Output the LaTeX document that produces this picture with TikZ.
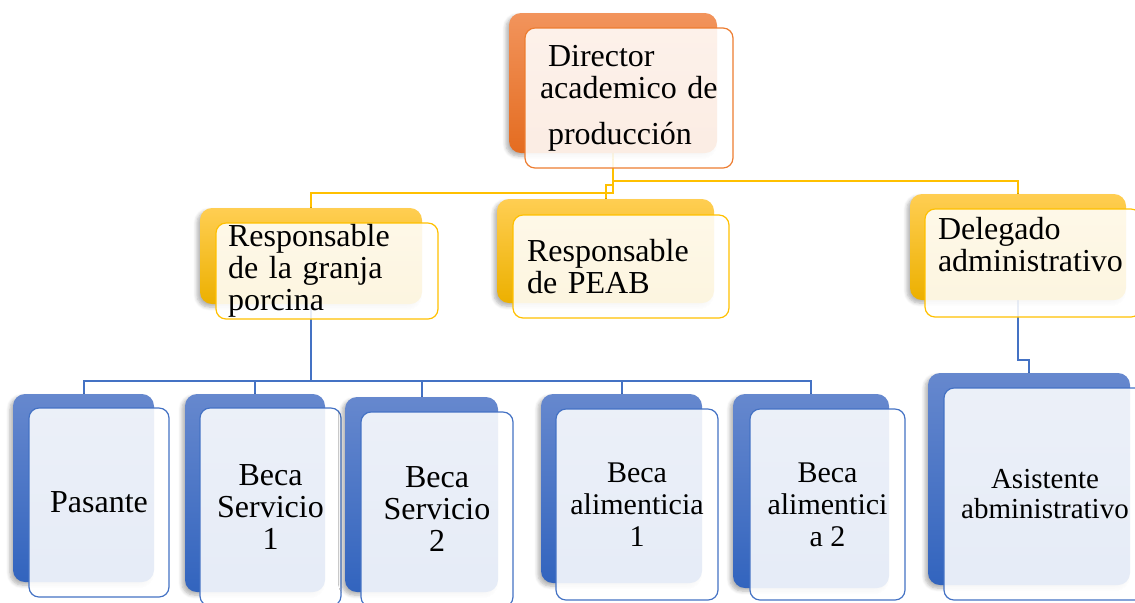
\documentclass[tikz,border=0pt]{standalone}
\usepackage{fontspec}
\setmainfont{Liberation Serif}
\usetikzlibrary{backgrounds, shadows.blur}
\definecolor{orgTop}{RGB}{242,148,92}
\definecolor{orgBot}{RGB}{228,108,32}
\definecolor{orgLine}{RGB}{237,125,49}
\definecolor{ylwTop}{RGB}{255,206,82}
\definecolor{ylwBot}{RGB}{236,176,0}
\definecolor{ylwLine}{RGB}{255,192,0}
\definecolor{bluTop}{RGB}{102,136,206}
\definecolor{bluBot}{RGB}{50,100,190}
\definecolor{bluLine}{RGB}{68,114,196}

\begin{document}
\begin{tikzpicture}[x=0.5pt, y=-0.5pt,
    back/.style={top color=#1Top, bottom color=#1Bot, draw=none, rounded corners=6pt,
                 blur shadow={shadow xshift=-1.5pt, shadow yshift=-1.5pt,
                              shadow opacity=30, shadow blur steps=6}},
    front/.style={draw=#1Line, line width=0.6pt, fill=white, fill opacity=0.88,
                  text opacity=1, rounded corners=5pt, inner sep=0pt},
    txt/.style={font=\fontsize{16}{16}\selectfont},
    ylw/.style={draw=ylwLine, line width=1pt},
    blu/.style={draw=bluLine, line width=1pt}
  ]
    \useasboundingbox (0,0) rectangle (1135,602);

    % Director
    \node[back=org, minimum width=104pt, minimum height=70pt] (dirB) at (613,83) {};
    \node[front=org, txt, minimum width=104pt, minimum height=70pt, align=left, text width=89pt]
      (dir) at (629,98) {\hspace{4pt}Director\\academico de\\[7pt]\hspace{4pt}producción};

    % Second level
    \node[back=ylw, minimum width=111pt, minimum height=48pt] (granjaB) at (311,256) {};
    \node[front=ylw, txt, minimum width=111pt, minimum height=48pt, align=left, text width=99pt]
      (granja) at (327,271) {Responsable\\de la granja\\porcina};

    \node[back=ylw, minimum width=108.5pt, minimum height=52pt] (peabB) at (605.5,251) {};
    \node[front=ylw, txt, minimum width=108pt, minimum height=51.5pt, align=left, text width=94pt]
      (peab) at (621,266.5) {Responsable\\de PEAB};

    \node[back=ylw, minimum width=108pt, minimum height=53pt] (delB) at (1018,247) {};
    \node[front=ylw, minimum width=108pt, minimum height=54pt] (del) at (1033,263) {};
    \node[txt, align=left, text width=95pt, inner sep=0pt] (delT) at (1033,244.5)
      {Delegado\\administrativo};

    % Third level
    \node[back=blu, minimum width=70.5pt, minimum height=94pt] (pasB) at (83.5,488) {};
    \node[front=blu, txt, minimum width=70pt, minimum height=94.5pt, align=center]
      (pas) at (99,502.5) {Pasante};

    \node[back=blu, minimum width=70pt, minimum height=99pt] (bs1B) at (255,493) {};
    \node[front=blu, txt, minimum width=70.5pt, minimum height=99pt, align=center]
      (bs1) at (270.5,507) {Beca\\Servicio\\1};

    \node[back=blu, minimum width=76.5pt, minimum height=97.5pt] (bs2B) at (421.5,494.5) {};
    \node[front=blu, txt, minimum width=76pt, minimum height=97.5pt, align=center]
      (bs2) at (437,509.5) {Beca\\Servicio\\2};

    \node[back=blu, minimum width=80.5pt, minimum height=94.5pt] (ba1B) at (621.5,488.5) {};
    \node[front=blu, font=\fontsize{15}{16}\selectfont, minimum width=81pt, minimum height=95.5pt,
      align=center] (ba1) at (637,504.5) {Beca\\alimenticia\\1};

    \node[back=blu, minimum width=78pt, minimum height=97pt] (ba2B) at (811,491) {};
    \node[front=blu, font=\fontsize{15}{16}\selectfont, minimum width=77.5pt, minimum height=95.5pt,
      align=center] (ba2) at (827.5,504.5) {Beca\\alimentici\\a 2};

    \node[back=blu, minimum width=101pt, minimum height=106pt] (asiB) at (1029,479) {};
    \node[front=blu, font=\fontsize{14.5}{15}\selectfont, minimum width=101pt, minimum height=106pt,
      align=center] (asi) at (1045,494) {Asistente\\abministrativo};

    % Connectors
    \begin{scope}[on background layer]
      \draw[ylw] (dirB.south) -- (613,181) -| (delB.north);
      \draw[ylw] (613,181) -- (613,193) -| (granjaB.north);
      \draw[ylw] (613,185) -- (605.5,185) -- (peabB.north);

      \draw[blu] (granjaB.south) -- (311,381);
      \foreach \n in {pasB, bs1B, bs2B, ba1B, ba2B}
        \draw[blu] (311,381) -| (\n.north);
      \draw[blu] (delB.south) -- (1018,360) -| (asiB.north);
    \end{scope}
  \end{tikzpicture}
\end{document}
